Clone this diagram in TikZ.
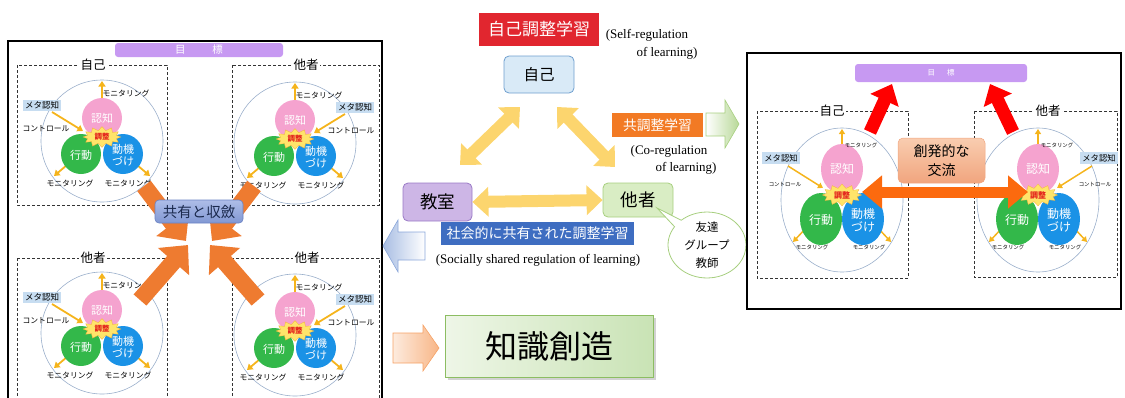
\documentclass[tikz,border=0pt]{standalone}
\usepackage{fontspec}
\setmainfont{Noto Sans CJK JP}
\newfontfamily\enserif{Liberation Serif}
\usetikzlibrary{arrows.meta,shapes.symbols,shapes.callouts,shadows}
\newcommand\fz[2]{\fontsize{#1}{#2}\selectfont}
\definecolor{ringcol}{HTML}{9AAFCB}
\definecolor{pinkcol}{HTML}{F5A3CF}
\definecolor{greencol}{HTML}{33B84A}
\definecolor{bluecol}{HTML}{1A92E6}
\definecolor{goldcol}{HTML}{F5B41C}
\definecolor{burstcol}{HTML}{FFE46A}
\definecolor{burstline}{HTML}{F3B23A}
\definecolor{regcol}{HTML}{E3201B}
\definecolor{metacol}{HTML}{C7DDF1}
\definecolor{goalcol}{HTML}{C799F2}
\definecolor{bigor}{HTML}{EE7B30}
\definecolor{selfred}{HTML}{E1262F}
\definecolor{selfbox}{HTML}{D9EAF7}
\definecolor{selfline}{HTML}{6E9FCF}
\definecolor{coor}{HTML}{F27A24}
\definecolor{roomfill}{HTML}{CDB6E6}
\definecolor{roomline}{HTML}{9A7AC6}
\definecolor{othfill}{HTML}{D9EDC4}
\definecolor{othline}{HTML}{A7CF7F}
\definecolor{yel}{HTML}{FCD56E}
\definecolor{ssblue}{HTML}{3E6DC1}
\definecolor{kgfill1}{HTML}{EEF6E7}
\definecolor{kgfill2}{HTML}{C9E3B5}
\definecolor{kgline}{HTML}{8CBD62}
\definecolor{emer1}{HTML}{F9CDB0}
\definecolor{emer2}{HTML}{F1A57E}
\definecolor{dblor}{HTML}{FC6A0E}
\definecolor{convA}{HTML}{AEBDE8}
\definecolor{convB}{HTML}{8198D3}
\definecolor{convline}{HTML}{6A82C3}
\definecolor{convtext}{HTML}{1B2A4E}
\tikzset{
  ringc/.style={draw=ringcol, line width=0.6pt},
  goldA/.style={draw=goldcol, line width=1.8pt, -{Triangle[length=5.5pt,width=7pt]}},
  goldB/.style={draw=goldcol, line width=1.5pt, -{Triangle[length=5pt,width=6pt]}},
  cwA/.style={text=white, font=\fz{11}{12}, inner sep=0pt, align=center},
  cwB/.style={text=white, font=\fz{12}{13}, inner sep=0pt, align=center},
  burstA/.style={starburst, starburst points=12, starburst point height=4pt, random starburst=0,
    fill=burstcol, draw=burstline, line width=0.3pt, inner xsep=3pt, inner ysep=1pt,
    text=regcol, font=\fz{7.5}{8}\bfseries},
  burstB/.style={burstA, font=\fz{8}{8}\bfseries},
  monA/.style={font=\fz{7.8}{8}, inner sep=0.5pt},
  monB/.style={font=\fz{5.4}{6}, inner sep=0.5pt},
  metaA/.style={fill=metacol, font=\fz{8.5}{9}, inner sep=1.6pt},
  metaB/.style={fill=metacol, font=\fz{8.3}{9}, inner sep=2.2pt},
  dbox/.style={draw=black!80, dash pattern=on 3pt off 2pt, line width=0.9pt},
  qlabel/.style={fill=white, inner sep=1.5pt, font=\fz{12.5}{13}},
  bigarrow/.style={draw=bigor, line width=17pt, -{Triangle[length=22pt,width=40pt]}},
  ydbl/.style={draw=yel, line width=12pt, {Triangle[length=16pt,width=29pt]}-{Triangle[length=16pt,width=29pt]}},
  redarrow/.style={draw=red, line width=13pt, -{Triangle[length=18pt,width=30pt]}},
  odbl/.style={draw=dblor, line width=11pt, {Triangle[length=20pt,width=32pt]}-{Triangle[length=20pt,width=32pt]}},
  engl/.style={font=\enserif\fz{13}{14}, inner sep=0pt},
}
% cluster of the left panel: #1 name, #2 x, #3 y, #4 side of meta (1 right, -1 left)
\newcommand\clusterA[4]{%
\begin{scope}[shift={(#2,#3)}]
  \draw[ringc] (0,0) circle[radius=61];
  \draw[goldA] (0,-40) -- (0,-60);
  \draw[goldA] (-35,24) -- (-48,35);
  \draw[goldA] (35,24) -- (48,35);
  \fill[pinkcol] (0,-23) circle[radius=20];
  \fill[greencol] (-21,13) circle[radius=20];
  \fill[bluecol] (21,13) circle[radius=20];
  \node[cwA] (#1-cog) at (0,-23) {認知};
  \node[cwA] (#1-act) at (-21,14) {行動};
  \node[cwA] (#1-mot) at (21,14) {動機\\づけ};
  \node[burstA] (#1-reg) at (0,-4) {調整};
  \node[monA] (#1-m1) at (24,-48) {モニタリング};
  \node[monA] (#1-m2) at (-32,42) {モニタリング};
  \node[monA] (#1-m3) at (26,42) {モニタリング};
  \begin{scope}[xscale=#4]
    \node[metaA] (#1-meta) at (60,-36) {メタ認知};
    \node[monA] (#1-ctl) at (56,-12) {コントロール};
    \draw[goldA] (50,-29) -- (19,-10);
  \end{scope}
\end{scope}}
% cluster of the right panel
\newcommand\clusterB[4]{%
\begin{scope}[shift={(#2,#3)}]
  \draw[ringc] (0,0) ellipse[x radius=61, y radius=72];
  \draw[goldB] (0,-56) -- (0,-71);
  \draw[goldB] (-36,28) -- (-49,42);
  \draw[goldB] (36,28) -- (49,42);
  \fill[pinkcol] (0,-31) ellipse[x radius=21, y radius=25];
  \fill[greencol] (-21,19) ellipse[x radius=21, y radius=26];
  \fill[bluecol] (21,19) ellipse[x radius=21, y radius=26];
  \node[cwB] (#1-cog) at (0,-31) {認知};
  \node[cwB] (#1-act) at (-21,20) {行動};
  \node[cwB] (#1-mot) at (21,20) {動機\\づけ};
  \node[burstB] (#1-reg) at (0,-5) {調整};
  \node[monB] (#1-m1) at (19,-55) {モニタリング};
  \node[monB] (#1-m2) at (-30,47) {モニタリング};
  \node[monB] (#1-m3) at (27,47) {モニタリング};
  \begin{scope}[xscale=#4]
    \node[metaB] (#1-meta) at (61,-42) {メタ認知};
    \node[monB] (#1-ctl) at (57,-16) {コントロール};
    \draw[goldB] (54,-34) -- (19,-12);
  \end{scope}
\end{scope}}
\begin{document}
\begin{tikzpicture}[x=1pt,y=-1pt]
\useasboundingbox (0,0) rectangle (1125,397);
%================ left panel
\draw[line width=2pt] (8,41) rectangle (382,402);
\node[fill=goalcol, rounded corners=3pt, minimum width=168pt, minimum height=14pt, inner sep=0pt,
  text=white, font=\fz{10.5}{11}] (goalL) at (199,50) {目\hspace{27pt}標};
\draw[dbox] (17,65) rectangle (167,205);
\draw[dbox] (232,65) rectangle (379,205);
\draw[dbox] (17,258) rectangle (167,402);
\draw[dbox] (232,258) rectangle (379,402);
\clusterA{TL}{102}{141}{-1}
\clusterA{TR}{295}{143}{1}
\clusterA{BL}{102}{333}{-1}
\clusterA{BR}{295}{335}{1}
\node[qlabel] (labTL) at (93,65) {自己};
\node[qlabel] (labTR) at (306,65) {他者};
\node[qlabel] (labBL) at (93,258) {他者};
\node[qlabel] (labBR) at (307,258) {他者};
\coordinate (cTL) at (144,186);
\coordinate (cTR) at (254,186);
\coordinate (cBL) at (140,300);
\coordinate (cBR) at (258,300);
\coordinate (hTL) at (186,241);
\coordinate (hTR) at (212,241);
\coordinate (hBL) at (188,245);
\coordinate (hBR) at (210,245);
\draw[bigarrow] (cTL) -- (hTL);
\draw[bigarrow] (cTR) -- (hTR);
\draw[bigarrow] (cBL) -- (hBL);
\draw[bigarrow] (cBR) -- (hBR);
\node[rounded corners=4pt, top color=convA, bottom color=convB, draw=convline, line width=0.6pt,
  minimum width=88pt, minimum height=23pt, inner sep=0pt, text=convtext, font=\fz{14.5}{15}]
  (conv) at (199,211.5) {共有と収斂};
%================ centre
\node[fill=selfred, minimum width=120pt, minimum height=33pt, inner sep=0pt, text=white,
  font=\fz{17}{18}] (srl) at (539,29.5) {自己調整学習};
\node[engl] (srlE1) at (647,35) {(Self-regulation};
\node[engl] (srlE2) at (667,53) {of learning)};
\node[fill=selfbox, draw=selfline, line width=0.8pt, rounded corners=5pt, minimum width=70pt,
  minimum height=37pt, inner sep=0pt, font=\fz{15.5}{16}] (self) at (539,74.5) {自己};
\node[fill=coor, minimum width=91pt, minimum height=24pt, inner sep=0pt, text=white,
  font=\fz{13.8}{14}] (crl) at (657.5,125) {共調整学習};
\node[engl] (crlE1) at (669,151) {(Co-regulation};
\node[engl] (crlE2) at (686,168) {of learning)};
\draw[left color=white, right color=othline!80, draw=othline, line width=0.6pt]
  (706,113) -- (725,113) -- (725,100) -- (739,124) -- (725,148) -- (725,136) -- (706,136) -- cycle;
\node[fill=roomfill, draw=roomline, line width=0.8pt, rounded corners=5pt, minimum width=69pt,
  minimum height=38pt, inner sep=0pt, font=\fz{17.5}{18}] (room) at (437.5,202) {教室};
\node[fill=othfill, draw=othline, line width=0.8pt, rounded corners=5pt, minimum width=70pt,
  minimum height=34pt, inner sep=0pt, font=\fz{17.5}{18}] (other) at (638,200) {他者};
\coordinate (yA1) at (520,107);
\coordinate (yA2) at (460,165);
\coordinate (yB1) at (557,107);
\coordinate (yB2) at (615,167);
\draw[ydbl] (yA1) -- (yA2);
\draw[ydbl] (yB1) -- (yB2);
\draw[ydbl] (room.east) -- (other.west);
\node[ellipse callout, draw=othline, line width=0.8pt, fill=white, minimum width=78pt,
  minimum height=64pt, inner sep=0pt, align=center, font=\fz{11.5}{18},
  callout absolute pointer={(657,208)}] (bubble) at (707,245) {友達\\グループ\\教師};
\node[fill=ssblue, minimum width=193pt, minimum height=23pt, inner sep=0pt, text=white,
  font=\fz{14}{14}] (ssrl) at (537.5,233.5) {社会的に共有された調整学習};
\node[engl] (ssrlE) at (538,260) {(Socially shared regulation of learning)};
\draw[left color=ssblue!45, right color=white, draw=ssblue!60, line width=0.6pt]
  (425,232) -- (398,232) -- (398,220) -- (383,246) -- (398,272) -- (398,260) -- (425,260) -- cycle;
\draw[left color=coor!15, right color=coor!55, draw=coor!70, line width=0.6pt]
  (393,333) -- (423,333) -- (423,325) -- (439,348) -- (423,371) -- (423,363) -- (393,363) -- cycle;
\node[left color=kgfill1, right color=kgfill2, draw=kgline, line width=0.8pt,
  drop shadow={shadow xshift=3pt, shadow yshift=-3pt, fill=black!35},
  minimum width=208pt, minimum height=62pt, inner sep=0pt, font=\fz{32}{32}]
  (kc) at (549,346) {知識創造};
%================ right panel
\draw[line width=2pt] (747,53) rectangle (1121,309);
\node[fill=goalcol, rounded corners=3pt, minimum width=172pt, minimum height=18pt, inner sep=0pt,
  text=white, font=\fz{7.5}{8}] (goalR) at (941,73) {目\hspace{12pt}標};
\draw[dbox] (757,111) rectangle (908,278);
\draw[dbox] (974,111) rectangle (1117,277);
\clusterB{RL}{842}{200}{-1}
\clusterB{RR}{1038}{200}{1}
\node[qlabel] (labRL) at (832,111) {自己};
\node[qlabel] (labRR) at (1048,111) {他者};
\coordinate (rA1) at (870,132);
\coordinate (rA2) at (892,84);
\coordinate (rB1) at (1013,132);
\coordinate (rB2) at (990,84);
\draw[redarrow] (rA1) -- (rA2);
\draw[redarrow] (rB1) -- (rB2);
\node[top color=emer1, bottom color=emer2, rounded corners=5pt, draw=emer2, line width=0.5pt,
  minimum width=87pt, minimum height=45pt, inner sep=0pt, align=center, font=\fz{14}{19}]
  (emerg) at (941.5,160.5) {創発的な\\交流};
\coordinate (oA) at (862,192);
\coordinate (oB) at (1028,192);
\draw[odbl] (oA) -- (oB);
\end{tikzpicture}
\end{document}
